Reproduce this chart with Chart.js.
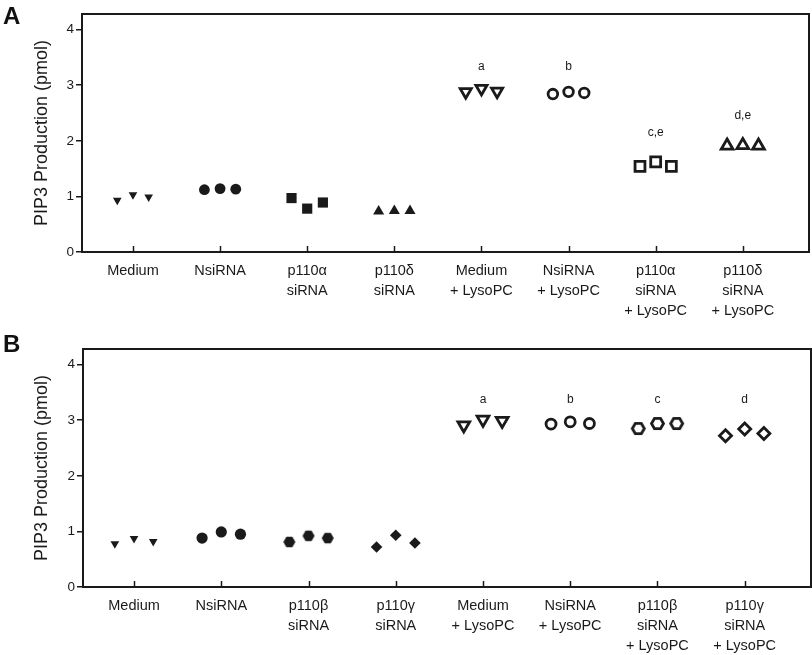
<!DOCTYPE html>
<html>
<head>
<meta charset="utf-8">
<script src="https://cdn.jsdelivr.net/npm/chart.js@4.4.1/dist/chart.umd.min.js"></script>
<style>
  body { margin: 0; background: #fff; width: 812px; height: 655px; position: relative; overflow: hidden; font-family: 'Liberation Sans', Arial, sans-serif; }
  canvas { position: absolute; left: 0; }
  #chart-a { top: 0; }
  #chart-b { top: 327px; }
  .panel-tag { position: absolute; left: 3px; font-weight: bold; font-size: 24px; line-height: 1; color: #111; }
</style>
</head>
<body>
<canvas id="chart-a" width="812" height="327"></canvas>
<canvas id="chart-b" width="812" height="328"></canvas>
<div class="panel-tag" style="top:4px">A</div>
<div class="panel-tag" style="top:332px">B</div>
<script>
// ---- data ----
const categoriesA = [
  ['Medium'], ['NsiRNA'], ['p110α', 'siRNA'], ['p110δ', 'siRNA'],
  ['Medium', '+ LysoPC'], ['NsiRNA', '+ LysoPC'],
  ['p110α', 'siRNA', '+ LysoPC'], ['p110δ', 'siRNA', '+ LysoPC'],
];
const valuesA = [
  [0.93, 1.03, 0.99],
  [1.12, 1.14, 1.13],
  [0.97, 0.78, 0.89],
  [0.73, 0.74, 0.74],
  [2.88, 2.94, 2.89],
  [2.84, 2.88, 2.86],
  [1.54, 1.62, 1.54],
  [1.91, 1.92, 1.91],
];
const lettersA = ['', '', '', '', 'a', 'b', 'c,e', 'd,e'];
const letterLevelA = [null, null, null, null, 3.33, 3.33, 2.14, 2.46];

const categoriesB = [
  ['Medium'], ['NsiRNA'], ['p110β', 'siRNA'], ['p110γ', 'siRNA'],
  ['Medium', '+ LysoPC'], ['NsiRNA', '+ LysoPC'],
  ['p110β', 'siRNA', '+ LysoPC'], ['p110γ', 'siRNA', '+ LysoPC'],
];
const valuesB = [
  [0.78, 0.87, 0.82],
  [0.88, 0.99, 0.95],
  [0.81, 0.92, 0.88],
  [0.72, 0.93, 0.79],
  [2.91, 3.01, 2.99],
  [2.93, 2.97, 2.94],
  [2.85, 2.94, 2.94],
  [2.72, 2.84, 2.76],
];
const lettersB = ['', '', '', '', 'a', 'b', 'c', 'd'];
const letterLevelB = [null, null, null, null, 3.36, 3.36, 3.36, 3.36];

const yTicks = [0, 1, 2, 3, 4];
const Y_TITLE = 'PIP3 Production (pmol)';

// ---- options ----
const INK = '#1a1a1a';
const FONT = "'Liberation Sans', Arial, sans-serif";
const OPEN_LINE = 2.8;

function hexagon(r, filled) {
  const lw = filled ? 0 : OPEN_LINE;
  const size = Math.ceil(2 * r + lw + 2);
  const c = document.createElement('canvas');
  c.width = size;
  c.height = size;
  const g = c.getContext('2d');
  g.beginPath();
  for (let k = 0; k < 6; k++) {
    const ang = (Math.PI / 3) * k;
    g.lineTo(size / 2 + r * Math.cos(ang), size / 2 + r * Math.sin(ang));
  }
  g.closePath();
  if (filled) {
    g.fillStyle = INK;
    g.fill();
  } else {
    g.fillStyle = '#fff';
    g.fill();
    g.lineWidth = lw;
    g.strokeStyle = INK;
    g.stroke();
  }
  return c;
}

// marker style per group
const markersA = [
  { style: 'triangle', rot: 180, r: 5, open: false },
  { style: 'circle', r: 5.4, open: false },
  { style: 'rect', r: 7.2, open: false },
  { style: 'triangle', r: 6.4, open: false },
  { style: 'triangle', rot: 180, r: 6.4, open: true },
  { style: 'circle', r: 4.8, open: true },
  { style: 'rect', r: 7, open: true },
  { style: 'triangle', r: 6.8, open: true },
];
const markersB = [
  { style: 'triangle', rot: 180, r: 5, open: false },
  { style: 'circle', r: 5.6, open: false },
  { style: hexagon(6, true), r: 7 },
  { style: 'rectRot', r: 5.8, open: false },
  { style: 'triangle', rot: 180, r: 6.8, open: true },
  { style: 'circle', r: 5, open: true },
  { style: hexagon(6, false), r: 8 },
  { style: 'rectRot', r: 6, open: true },
];

const framePlugin = {
  id: 'frame',
  afterDatasetsDraw(chart, args, opts) {
    const { ctx, chartArea: a, scales: { x, y } } = chart;
    ctx.save();
    ctx.strokeStyle = INK;
    ctx.lineWidth = 2;
    ctx.strokeRect(a.left, a.top, a.right - a.left, a.bottom - a.top);
    // short inward ticks on the category axis
    ctx.lineWidth = 1.5;
    x.ticks.forEach((t) => {
      const px = Math.round(x.getPixelForValue(t.value)) + 0.5;
      ctx.beginPath();
      ctx.moveTo(px, a.bottom);
      ctx.lineTo(px, a.bottom - 6);
      ctx.stroke();
    });
    // significance letters
    ctx.fillStyle = INK;
    ctx.font = '12px ' + FONT;
    ctx.textAlign = 'center';
    ctx.textBaseline = 'middle';
    opts.letters.forEach((txt, i) => {
      if (!txt) return;
      ctx.fillText(txt, x.getPixelForValue(i), y.getPixelForValue(opts.levels[i]));
    });
    ctx.restore();
  },
};

function panel(selector, cfg) {
  const el = document.querySelector(selector);
  if (!el) return;
  const jitter = [-cfg.spread, 0, cfg.spread];
  const datasets = cfg.values.map((vals, i) => {
    const m = cfg.markers[i];
    return {
      label: cfg.categories[i].join(' '),
      data: vals.map((v, k) => ({ x: i + jitter[k], y: v })),
      pointStyle: m.style,
      pointRotation: m.rot || 0,
      pointRadius: m.r,
      backgroundColor: m.open ? '#fff' : INK,
      borderColor: INK,
      borderWidth: m.open ? OPEN_LINE : 0,
    };
  });

  new Chart(el, {
    type: 'scatter',
    data: { datasets },
    plugins: [framePlugin],
    options: {
      responsive: false,
      animation: false,
      layout: { padding: { top: cfg.top, right: cfg.right, left: 0, bottom: 0 }, autoPadding: false },
      scales: {
        x: {
          type: 'linear',
          min: -0.585,
          max: 7.76,
          afterBuildTicks: (scale) => {
            scale.ticks = cfg.categories.map((_, i) => ({ value: i }));
          },
          afterFit: (scale) => {
            scale.height = cfg.xHeight;
          },
          grid: { display: false },
          border: { display: false },
          ticks: {
            padding: 1,
            color: INK,
            maxRotation: 0,
            autoSkip: false,
            font: { family: FONT, size: 14.5, lineHeight: 1.38 },
            callback: (value) => cfg.categories[value] || '',
          },
        },
        y: {
          min: 0,
          max: 4.28,
          afterBuildTicks: (scale) => {
            scale.ticks = yTicks.map((v) => ({ value: v }));
          },
          afterFit: (scale) => {
            scale.width = cfg.yWidth;
          },
          grid: { drawOnChartArea: false, drawTicks: true, tickLength: 6, color: INK, lineWidth: 1.5 },
          border: { display: false },
          ticks: { padding: 2, color: INK, font: { family: FONT, size: 13.5 } },
          title: {
            display: true,
            text: Y_TITLE,
            color: INK,
            padding: { top: 31, bottom: 0 },
            font: { family: FONT, size: 18, lineHeight: 1.2 },
          },
        },
      },
      plugins: {
        legend: { display: false },
        tooltip: { enabled: false },
        frame: { letters: cfg.letters, levels: cfg.levels },
      },
    },
  });
}

document.addEventListener('DOMContentLoaded', function () {
  panel('#chart-a', {
    categories: categoriesA, values: valuesA, markers: markersA,
    letters: lettersA, levels: letterLevelA,
    spread: 0.18, top: 14, right: 3, xHeight: 75, yWidth: 82,
  });
  panel('#chart-b', {
    categories: categoriesB, values: valuesB, markers: markersB,
    letters: lettersB, levels: letterLevelB,
    spread: 0.22, top: 22, right: 1, xHeight: 68, yWidth: 83,
  });
});
</script>
</body>
</html>
